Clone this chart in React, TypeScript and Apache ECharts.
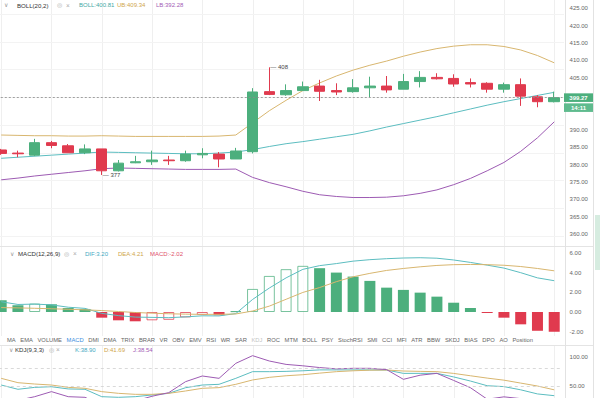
import React, { useEffect, useRef } from "react";
import * as echarts from "echarts";

// ---------- data ----------
// [open, close, low, high]
const candles: number[][] = [
  [384.2, 383.2, 382.8, 384.5],
  [383.3, 383.1, 382.1, 384.0],
  [382.7, 386.3, 382.4, 387.4],
  [386.3, 385.5, 384.7, 386.8],
  [385.4, 383.4, 383.4, 385.9],
  [383.4, 384.5, 383.0, 385.8],
  [384.5, 378.2, 377.0, 384.5],
  [378.2, 380.4, 378.0, 381.3],
  [380.5, 380.8, 380.4, 382.5],
  [380.8, 381.3, 379.9, 384.0],
  [381.3, 381.1, 379.9, 382.5],
  [381.1, 383.0, 380.8, 384.0],
  [382.8, 383.2, 381.8, 384.7],
  [383.0, 381.6, 379.2, 383.6],
  [381.6, 383.9, 381.6, 384.8],
  [383.7, 400.9, 383.2, 402.0],
  [401.0, 400.2, 400.0, 408.0],
  [400.1, 401.3, 399.8, 403.1],
  [401.3, 402.4, 401.2, 403.9],
  [402.6, 401.1, 398.3, 404.4],
  [401.3, 400.9, 400.0, 403.4],
  [401.0, 402.1, 400.7, 404.6],
  [402.1, 402.6, 399.4, 405.3],
  [402.6, 401.5, 400.7, 405.5],
  [401.7, 403.9, 401.7, 406.1],
  [403.9, 405.1, 402.2, 406.9],
  [405.1, 404.7, 404.5, 406.3],
  [404.8, 403.2, 402.4, 406.0],
  [403.6, 403.2, 402.2, 404.8],
  [403.4, 401.7, 400.7, 403.7],
  [401.7, 403.0, 400.7, 403.6],
  [403.0, 399.7, 396.9, 404.8],
  [399.5, 398.1, 396.5, 400.0],
  [398.1, 399.27, 397.9, 401.0],
];
const categories: string[] = candles.map((_, i) => String(i + 1));

const bollMid = [381.8, 382.1, 382.4, 382.7, 383.0, 383.3, 383.6, 383.5, 383.4, 383.3, 383.2, 383.1, 383.1, 383.3, 383.6, 384.3, 385.2, 386.0, 386.6, 387.3, 388.0, 388.7, 389.7, 390.8, 391.8, 392.8, 393.8, 394.9, 396.0, 397.1, 398.1, 399.0, 399.9, 400.8];
const bollUpper = [388.5, 388.4, 388.3, 388.3, 388.2, 388.2, 388.3, 388.2, 388.1, 388.1, 388.1, 388.1, 388.1, 388.2, 388.5, 392.0, 395.5, 398.5, 401.3, 403.5, 405.5, 407.2, 408.6, 409.8, 411.2, 412.4, 413.4, 414.1, 414.5, 414.5, 414.0, 413.0, 411.4, 409.3];
const bollLower = [375.6, 376.1, 376.7, 377.2, 377.7, 378.2, 378.8, 379.0, 378.9, 378.8, 378.7, 378.6, 378.6, 378.6, 378.7, 376.3, 374.8, 373.6, 372.3, 371.3, 370.8, 370.5, 370.5, 370.6, 371.0, 371.7, 372.7, 374.2, 376.0, 378.2, 380.6, 383.8, 387.7, 392.3];

const macdHist = [1.2, 0.69, 0.86, 0.79, 0.41, 0.31, -0.58, -0.85, -0.95, -0.85, -0.8, -0.55, -0.3, -0.33, 0.08, 2.36, 3.69, 4.38, 4.72, 4.48, 4.03, 3.62, 3.18, 2.49, 2.26, 1.98, 1.57, 0.95, 0.41, -0.1, -0.58, -1.26, -1.92, -2.02];
const macdDif = [1.05, 0.77, 0.81, 0.73, 0.49, 0.37, -0.14, -0.37, -0.52, -0.55, -0.58, -0.5, -0.39, -0.4, -0.16, 1.28, 2.45, 3.49, 4.36, 4.74, 4.95, 5.2, 5.35, 5.45, 5.52, 5.55, 5.5, 5.32, 5.07, 4.79, 4.49, 4.02, 3.49, 3.2];
const macdDea = [0.45, 0.42, 0.38, 0.33, 0.28, 0.22, 0.15, 0.05, -0.05, -0.12, -0.18, -0.22, -0.24, -0.24, -0.2, 0.1, 0.6, 1.3, 2.0, 2.5, 3.1, 3.6, 3.95, 4.25, 4.45, 4.62, 4.76, 4.84, 4.86, 4.84, 4.78, 4.65, 4.45, 4.21];

const kdjK = [52.2, 44.9, 48.2, 49.3, 45.5, 44.9, 32.3, 31.2, 32.3, 35.2, 38.0, 47.6, 52.2, 53.4, 63.6, 75.0, 75.0, 75.5, 76.5, 78.0, 78.0, 78.0, 78.0, 77.8, 72.1, 72.1, 72.1, 66.0, 59.0, 51.0, 49.5, 44.0, 37.0, 34.0];
const kdjD = [63.6, 56.2, 53.9, 52.2, 48.2, 46.6, 40.9, 38.0, 36.3, 36.3, 38.0, 42.0, 46.6, 47.7, 53.4, 60.8, 65.3, 68.0, 69.8, 72.5, 75.0, 76.5, 77.5, 77.8, 76.1, 75.5, 75.0, 72.0, 68.0, 64.0, 60.5, 55.5, 50.5, 44.0];
const kdjJ = [22.0, 26.0, 32.3, 40.9, 32.3, 31.2, 18.0, 20.0, 25.0, 33.0, 39.2, 57.9, 67.6, 63.6, 89.2, 102.3, 93.2, 87.4, 85.0, 82.0, 79.8, 80.7, 80.7, 78.5, 61.9, 69.0, 72.1, 60.0, 47.6, 28.0, 32.0, 29.0, 22.0, 18.0];
const kdjLevels = [20, 50, 80];

const bollTitle = "BOLL(20,2)";
const bollLegend = ["BOLL:400.81", "UB:409.34", "LB:392.28"];
const macdTitle = "MACD(12,26,9)";
const macdLegend = ["DIF:3.20", "DEA:4.21", "MACD:-2.02"];
const kdjTitle = "KDJ(9,3,3)";
const kdjLegend = ["K:38.90", "D:41.69", "J:38.54"];
const countdown = "14:11";
const tabs = ["MA", "EMA", "VOLUME", "MACD", "DMI", "DMA", "TRIX", "BRAR", "VR", "OBV", "EMV", "RSI", "WR", "SAR", "KDJ", "ROC", "MTM", "BOLL", "PSY", "StochRSI", "SMI", "CCI", "MFI", "ATR", "BBW", "SKDJ", "BIAS", "DPO", "AO", "Position"];

// ---------- styles ----------
const GREEN = "#4caf7d";
const RED = "#e03a4e";
const TEAL = "#5cbdc0";
const GOLD = "#d8b66f";
const PURPLE = "#9d5bb3";
const FONT = "Liberation Sans";
const GRID_LEFT = -7.2;
const GRID_W = 569.8;

function measure(text: string, size: number): number {
  const ctx = document.createElement("canvas").getContext("2d");
  if (!ctx) return text.length * size * 0.55;
  ctx.font = `${size}px "${FONT}"`;
  return ctx.measureText(text).width;
}

export default function App() {
  const ref = useRef<HTMLDivElement>(null);

  useEffect(() => {
    if (!ref.current) return;
    const chart = echarts.init(ref.current, undefined, { renderer: "svg", width: 600, height: 398 });

    const lastClose = candles[candles.length - 1][1];
    let hiIdx = 0, loIdx = 0;
    candles.forEach((c, i) => {
      if (c[3] > candles[hiIdx][3]) hiIdx = i;
      if (c[2] < candles[loIdx][2]) loIdx = i;
    });

    const histItems = macdHist.map((v, i) => {
      const base = v >= 0 ? GREEN : RED;
      const hollow = i > 0 && v > macdHist[i - 1];
      return {
        value: v,
        itemStyle: hollow
          ? { color: "#ffffff", borderColor: base, borderWidth: 1, opacity: 0.75 }
          : { color: base },
      };
    });

    const labelStyle = { color: "#666", fontSize: 6, fontFamily: FONT, margin: 7 };
    const lineSeries = (name: string, data: number[], color: string, idx: number) => ({
      name,
      type: "line",
      xAxisIndex: idx,
      yAxisIndex: idx,
      data,
      showSymbol: false,
      symbol: "none",
      lineStyle: { color, width: 1 },
      silent: true,
    });
    const gridBase = { left: GRID_LEFT, width: GRID_W, containLabel: false, outerBoundsMode: "none" };

    chart.setOption({
      animation: false,
      backgroundColor: "#ffffff",
      textStyle: { fontFamily: FONT },
      grid: [
        { ...gridBase, top: -9.06, height: 260.4 },
        { ...gridBase, top: 233.76, height: 117.36 },
        { ...gridBase, top: 345.3, height: 70.3 },
      ],
      xAxis: [0, 1, 2].map((g) => ({
        type: "category",
        gridIndex: g,
        data: categories,
        boundaryGap: true,
        show: false,
      })),
      yAxis: [
        {
          type: "value", gridIndex: 0, position: "right", min: 355, max: 430, interval: 5,
          axisLine: { show: false }, axisTick: { show: false }, splitLine: { show: false },
          axisLabel: {
            ...labelStyle,
            // labels under the last-price tag are hidden, as in the reference
            formatter: (v: number) =>
              v >= 360 && v <= 425 && !(v - lastClose < 2.5 && v - lastClose > -5.5) ? v.toFixed(2) : "",
          },
        },
        {
          type: "value", gridIndex: 1, position: "right", min: -4, max: 8, interval: 2,
          axisLine: { show: false }, axisTick: { show: false }, splitLine: { show: false },
          axisLabel: { ...labelStyle, formatter: (v: number) => (v >= -2 && v <= 6 ? v.toFixed(2) : "") },
        },
        {
          type: "value", gridIndex: 2, position: "right", min: 0, max: 120, interval: 50,
          axisLine: { show: false }, axisTick: { show: false }, splitLine: { show: false },
          axisLabel: { ...labelStyle, formatter: (v: number) => (v >= 50 && v <= 100 ? v.toFixed(2) : "") },
        },
      ],
      series: [
        lineSeries("UB", bollUpper, GOLD, 0),
        lineSeries("LB", bollLower, PURPLE, 0),
        lineSeries("BOLL", bollMid, TEAL, 0),
        {
          name: "K",
          type: "candlestick",
          xAxisIndex: 0,
          yAxisIndex: 0,
          data: candles,
          barWidth: 11,
          z: 3,
          itemStyle: { color: GREEN, color0: RED, borderColor: GREEN, borderColor0: RED, borderWidth: 1 },
          markLine: {
            silent: true,
            symbol: ["none", "none"],
            label: { show: false },
            lineStyle: { color: "#8a8a8a", type: [2, 2], width: 0.8 },
            data: [{ yAxis: lastClose }],
          },
          markPoint: {
            silent: true,
            symbol: "circle",
            symbolSize: 2,
            itemStyle: { color: "rgba(0,0,0,0)" },
            label: {
              show: true, position: "right", distance: 0, fontSize: 6, color: "#444", fontFamily: FONT,
              formatter: (p: any) => "— " + p.value,
            },
            data: [
              { coord: [hiIdx, candles[hiIdx][3]], value: candles[hiIdx][3] },
              { coord: [loIdx, candles[loIdx][2]], value: candles[loIdx][2] },
            ],
          },
        },
        {
          name: "MACD",
          type: "bar",
          xAxisIndex: 1,
          yAxisIndex: 1,
          data: histItems,
          barWidth: 11,
          silent: true,
        },
        lineSeries("DIF", macdDif, TEAL, 1),
        lineSeries("DEA", macdDea, GOLD, 1),
        {
          ...lineSeries("Kline", kdjK, TEAL, 2),
          markLine: {
            silent: true,
            symbol: ["none", "none"],
            label: { show: false },
            lineStyle: { color: "#cfcfcf", type: [3, 3], width: 0.8 },
            data: kdjLevels.map((v) => ({ yAxis: v })),
          },
        },
        lineSeries("D", kdjD, GOLD, 2),
        lineSeries("J", kdjJ, PURPLE, 2),
      ],
    });

    // ---------- decoration graphics ----------
    const els: any[] = [];
    const addLine = (x1: number, y1: number, x2: number, y2: number, stroke: string) =>
      els.push({ type: "line", silent: true, z: 0, shape: { x1, y1, x2, y2 }, style: { stroke, lineWidth: 1 } });
    const addText = (x: number, y: number, t: string, fill: string, size = 6, align = "left", weight = "normal") =>
      els.push({
        type: "text", silent: true, z: 10, x, y,
        style: { text: t, fill, fontSize: size, fontFamily: FONT, fontWeight: weight, align, verticalAlign: "middle", textAlign: align, textVerticalAlign: "middle" },
      });

    // vertical grid lines every 3 bars, in each pane
    for (let i = 0; i < categories.length; i += 3) {
      const x = Math.round(chart.convertToPixel({ xAxisIndex: 0 }, i) as number) + 0.5;
      addLine(x, 0, x, 246, "#efefef");
      addLine(x, 246, x, 336, "#efefef");
      addLine(x, 345, x, 398, "#efefef");
    }
    // horizontal grid lines in the price pane
    for (let k = 0; k < 9; k++) {
      const y = Math.round(14 + k * 27.7) + 0.5;
      addLine(0, y, 564, y, "#f3f3f3");
    }
    // pane separators and right axis borders
    addLine(0, 246.5, 593, 246.5, "#e4e4e4");
    addLine(0, 345.5, 593, 345.5, "#e4e4e4");
    addLine(565.5, 0, 565.5, 398, "#e2e2e2");
    addLine(593.5, 0, 593.5, 398, "#e2e2e2");
    els.push({ type: "rect", silent: true, z: 0, shape: { x: 595, y: 215, width: 5, height: 55 }, style: { fill: "#d6ece0" } });

    // legends
    const legend = (y: number, chevX: number, titleX: number, title: string, iconX: number[], vals: string[], valX: number[], colors: string[]) => {
      addText(chevX, y, "∨", "#999", 5.5);
      addText(titleX, y, title, "#333", 6.1);
      addText(iconX[0], y, "◎", "#aaa", 6, "center");
      addText(iconX[1], y, "×", "#aaa", 6.5, "center");
      vals.forEach((v, i) => addText(valX[i], y, v, colors[i], 6));
    };
    legend(5, 4, 17, bollTitle, [59, 68], bollLegend, [79, 117, 156], ["#3fa9a4", "#cfa64c", "#a35bb5"]);
    legend(253.5, 10, 18, macdTitle, [66, 75], macdLegend, [85, 118, 150], ["#3fa9c2", "#cfa64c", "#e0506a"]);
    legend(349.8, 9, 15, kdjTitle, [51, 58], kdjLegend, [75, 104, 133], ["#3fa9c2", "#cfa64c", "#a35bb5"]);

    // indicator tab row
    const tabSize = 5.8;
    const widths = tabs.map((t) => measure(t, tabSize));
    const total = widths.reduce((a, b) => a + b, 0);
    const gap = (533 - 7 - total) / (tabs.length - 1);
    let tx = 7;
    tabs.forEach((t, i) => {
      const fill = t === "MACD" ? "#3b8ede" : t === "KDJ" ? "#c4c4c4" : "#666";
      addText(tx, 339.5, t, fill, tabSize);
      tx += widths[i] + gap;
    });

    // last price tag
    const py = chart.convertToPixel({ yAxisIndex: 0 }, lastClose) as number;
    els.push({ type: "rect", silent: true, z: 10, shape: { x: 564, y: py - 4.3, width: 29, height: 8.6 }, style: { fill: GREEN } });
    els.push({ type: "rect", silent: true, z: 10, shape: { x: 564, y: py + 5.7, width: 29, height: 8.6 }, style: { fill: "#5fbb8e" } });
    addText(578.5, py, lastClose.toFixed(2), "#ffffff", 6, "center", "bold");
    addText(578.5, py + 10, countdown, "#ffffff", 6, "center", "bold");

    chart.setOption({ graphic: els });

    return () => chart.dispose();
  }, []);

  return <div ref={ref} style={{ position: "fixed", left: 0, top: 0, width: 600, height: 398 }} />;
}
